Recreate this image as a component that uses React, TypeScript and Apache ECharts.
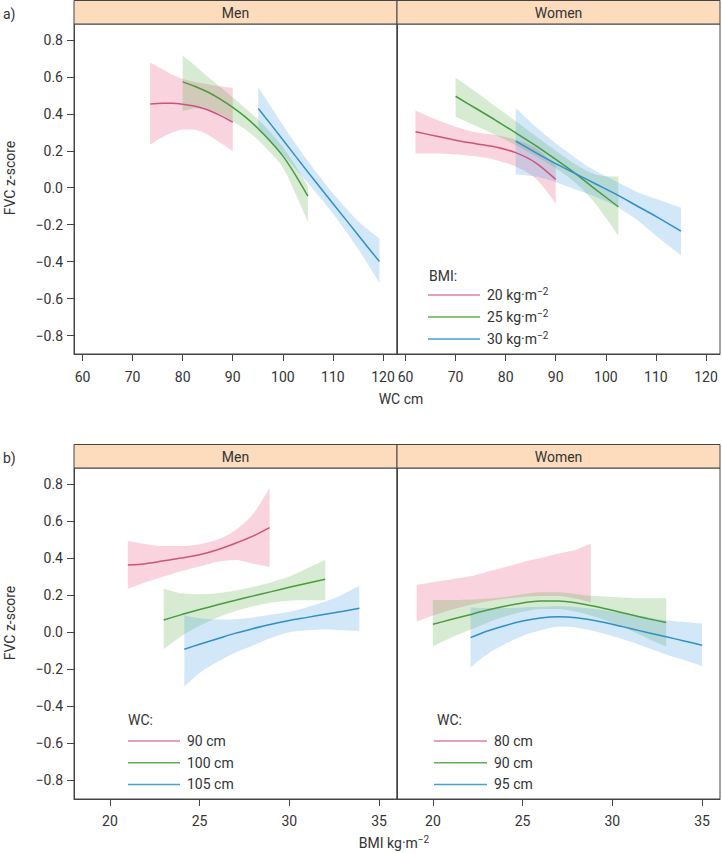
import React, { useEffect, useRef } from 'react';
import * as echarts from 'echarts';

// ---------- Panel a) FVC z-score vs WC (cm), by BMI ----------
const aXTicks = [60, 70, 80, 90, 100, 110, 120];
const bXTicks = [20, 25, 30, 35];
const yTicks = [-0.8, -0.6, -0.4, -0.2, 0, 0.2, 0.4, 0.6, 0.8];

// Men, BMI 20
const aMen20X = [73.5, 76, 78, 80, 82, 84, 86, 88, 90];
const aMen20Fit = [0.453, 0.457, 0.457, 0.452, 0.443, 0.43, 0.41, 0.385, 0.355];
const aMen20Lo = [0.234, 0.275, 0.3, 0.315, 0.315, 0.3, 0.27, 0.235, 0.198];
const aMen20Hi = [0.676, 0.64, 0.61, 0.59, 0.575, 0.565, 0.555, 0.548, 0.54];
// Men, BMI 25
const aMen25X = [80, 82.5, 85, 87.5, 90, 92.5, 95, 97.5, 100, 102.5, 105];
const aMen25Fit = [0.573, 0.548, 0.518, 0.48, 0.435, 0.383, 0.322, 0.252, 0.172, 0.07, -0.045];
const aMen25Lo = [0.415, 0.43, 0.42, 0.4, 0.36, 0.315, 0.26, 0.19, 0.11, -0.03, -0.185];
const aMen25Hi = [0.715, 0.66, 0.6, 0.545, 0.49, 0.43, 0.37, 0.3, 0.22, 0.12, 0.01];
// Men, BMI 30
const aMen30X = [95.1, 100, 105, 110, 115, 119.3];
const aMen30Fit = [0.429, 0.26, 0.085, -0.085, -0.255, -0.4];
const aMen30Lo = [0.31, 0.18, 0.025, -0.14, -0.33, -0.515];
const aMen30Hi = [0.545, 0.34, 0.145, -0.03, -0.18, -0.275];

// Women, BMI 20
const aWom20X = [62, 66, 70, 74, 78, 82, 86, 90];
const aWom20Fit = [0.303, 0.28, 0.257, 0.238, 0.22, 0.19, 0.135, 0.045];
const aWom20Lo = [0.185, 0.185, 0.18, 0.17, 0.15, 0.115, 0.05, -0.085];
const aWom20Hi = [0.418, 0.37, 0.33, 0.3, 0.285, 0.26, 0.215, 0.12];
// Women, BMI 25
const aWom25X = [70, 74, 78, 82, 86, 90, 94, 98, 102.5];
const aWom25Fit = [0.495, 0.43, 0.365, 0.297, 0.228, 0.153, 0.075, -0.01, -0.103];
const aWom25Lo = [0.384, 0.335, 0.285, 0.23, 0.17, 0.105, 0.025, -0.09, -0.26];
const aWom25Hi = [0.595, 0.52, 0.44, 0.36, 0.28, 0.2, 0.125, 0.07, 0.06];
// Women, BMI 30
const aWom30X = [82, 86, 90, 94, 98, 102, 106, 110, 115];
const aWom30Fit = [0.252, 0.19, 0.13, 0.075, 0.02, -0.035, -0.095, -0.155, -0.235];
const aWom30Lo = [0.072, 0.06, 0.03, -0.01, -0.05, -0.1, -0.17, -0.26, -0.366];
const aWom30Hi = [0.432, 0.33, 0.24, 0.16, 0.09, 0.035, -0.02, -0.06, -0.108];

// ---------- Panel b) FVC z-score vs BMI, by WC ----------
// Men, WC 90
const bMen90X = [21, 22, 23, 24, 25, 26, 27, 28, 28.9];
const bMen90Fit = [0.363, 0.37, 0.385, 0.4, 0.418, 0.445, 0.48, 0.52, 0.564];
const bMen90Lo = [0.235, 0.27, 0.3, 0.33, 0.355, 0.38, 0.39, 0.37, 0.352];
const bMen90Hi = [0.492, 0.475, 0.465, 0.465, 0.475, 0.5, 0.55, 0.64, 0.78];
// Men, WC 100
const bMen100X = [23, 24, 25, 26, 27, 28, 29, 30, 31, 32];
const bMen100Fit = [0.066, 0.095, 0.122, 0.148, 0.172, 0.196, 0.219, 0.242, 0.264, 0.286];
const bMen100Lo = [-0.092, -0.02, 0.035, 0.08, 0.115, 0.14, 0.16, 0.17, 0.172, 0.172];
const bMen100Hi = [0.235, 0.21, 0.205, 0.21, 0.225, 0.245, 0.27, 0.3, 0.345, 0.39];
// Men, WC 105
const bMen105X = [24.15, 25, 26, 27, 28, 29, 30, 31, 32, 33, 33.9];
const bMen105Fit = [-0.092, -0.065, -0.035, -0.005, 0.02, 0.043, 0.063, 0.08, 0.097, 0.113, 0.129];
const bMen105Lo = [-0.293, -0.22, -0.16, -0.11, -0.07, -0.03, 0.0, 0.01, 0.015, 0.01, 0.005];
const bMen105Hi = [0.09, 0.075, 0.068, 0.07, 0.08, 0.095, 0.11, 0.135, 0.165, 0.205, 0.25];

// Women, WC 80 (band only; no fitted line visible)
const bWom80X = [19.1, 20, 21, 22, 23, 24, 25, 26, 27, 28, 28.8];
const bWom80Lo = [0.056, 0.09, 0.12, 0.145, 0.165, 0.18, 0.19, 0.195, 0.195, 0.18, 0.16];
const bWom80Hi = [0.255, 0.27, 0.285, 0.3, 0.325, 0.35, 0.378, 0.4, 0.424, 0.445, 0.478];
// Women, WC 90
const bWom90X = [20, 21, 22, 23, 24, 25, 26, 27, 28, 29, 30, 31, 32, 33];
const bWom90Fit = [0.043, 0.068, 0.093, 0.118, 0.14, 0.158, 0.168, 0.168, 0.158, 0.14, 0.118, 0.095, 0.073, 0.052];
const bWom90Lo = [-0.077, -0.03, 0.01, 0.05, 0.085, 0.11, 0.125, 0.125, 0.11, 0.085, 0.05, 0.01, -0.035, -0.077];
const bWom90Hi = [0.174, 0.174, 0.175, 0.18, 0.19, 0.205, 0.215, 0.215, 0.205, 0.195, 0.19, 0.185, 0.183, 0.183];
// Women, WC 95
const bWom95X = [22.1, 23, 24, 25, 26, 27, 28, 29, 30, 31, 32, 33, 34, 35];
const bWom95Fit = [-0.029, 0.005, 0.035, 0.06, 0.077, 0.083, 0.078, 0.063, 0.043, 0.02, -0.003, -0.025, -0.047, -0.07];
const bWom95Lo = [-0.19, -0.12, -0.065, -0.02, 0.01, 0.029, 0.025, 0.005, -0.02, -0.05, -0.085, -0.12, -0.15, -0.182];
const bWom95Hi = [0.133, 0.13, 0.13, 0.133, 0.137, 0.14, 0.135, 0.125, 0.11, 0.095, 0.08, 0.065, 0.055, 0.047];

const legendA = ['20', '25', '30'];
const legendBMen = ['90 cm', '100 cm', '105 cm'];
const legendBWom = ['80 cm', '90 cm', '95 cm'];

const PINK = '#cc5580';
const GREEN = '#4a9a3e';
const BLUE = '#2f90c8';
const PINK_L = '#e07ea0';
const GREEN_L = '#62ad55';
const BLUE_L = '#45a0d4';
const PINK_A = 'rgba(232,80,122,0.25)';
const GREEN_A = 'rgba(92,176,74,0.25)';
const BLUE_A = 'rgba(74,160,224,0.25)';
const FONT = 'Roboto, "DejaVu Sans", sans-serif';
const TXT = '#333';
const FRAME = '#444';
const FS = 14;
const SMOOTH = 0.3;

// Bands: value is put in the first column so that the stack acts on y.
function band(grid: number, x: number[], lo: number[], hi: number[], color: string, key: string) {
  return [
    {
      type: 'line', xAxisIndex: grid, yAxisIndex: grid, stack: key, stackStrategy: 'all',
      encode: { x: 1, y: 0 },
      data: x.map((v, i) => [lo[i], v]), smooth: SMOOTH, symbol: 'none',
      lineStyle: { opacity: 0 }, silent: true, z: 1,
    },
    {
      type: 'line', xAxisIndex: grid, yAxisIndex: grid, stack: key, stackStrategy: 'all',
      encode: { x: 1, y: 0 },
      data: x.map((v, i) => [hi[i] - lo[i], v]), smooth: SMOOTH, symbol: 'none',
      lineStyle: { opacity: 0 }, areaStyle: { color, opacity: 1 }, silent: true, z: 1,
    },
  ];
}

function fitLine(grid: number, x: number[], y: number[], color: string) {
  return {
    type: 'line', xAxisIndex: grid, yAxisIndex: grid,
    data: x.map((v, i) => [v, y[i]]), smooth: SMOOTH, symbol: 'none',
    lineStyle: { color, width: 1.5 }, silent: true, z: 3,
  };
}

const fmtY = (v: number) => (v < -1e-9 ? '\u2212' : '') + Math.abs(v).toFixed(1);

function xAxis(grid: number, min: number, max: number, ticks: number[], margin: number) {
  return {
    type: 'value', gridIndex: grid, min, max,
    splitLine: { show: false },
    axisLine: { show: true, onZero: false, lineStyle: { color: FRAME, width: 1 } },
    axisTick: { show: true, inside: false, length: 7, customValues: ticks, lineStyle: { color: FRAME } },
    axisLabel: { show: true, customValues: ticks, margin, color: TXT, fontSize: FS, fontFamily: FONT },
  };
}

function yAxis(grid: number, labels: boolean) {
  return {
    type: 'value', gridIndex: grid, min: -0.9, max: 0.886,
    splitLine: { show: false },
    axisLine: { show: true, onZero: false, lineStyle: { color: FRAME, width: 1 } },
    axisTick: { show: labels, inside: false, length: 7, customValues: yTicks, lineStyle: { color: FRAME } },
    axisLabel: { show: labels, customValues: yTicks, margin: 11, color: TXT, fontSize: FS, fontFamily: FONT, formatter: fmtY },
  };
}

function strip(x: number, y: number, w: number, label: string) {
  return [
    { type: 'rect', shape: { x, y, width: w, height: 23.5 }, style: { fill: '#fcdcbd', stroke: FRAME, lineWidth: 1 }, z: 10 },
    { type: 'text', x: x + w / 2, y: y + 12.5, style: { text: label, fill: TXT, font: `${FS}px ${FONT}`, align: 'center', verticalAlign: 'middle' }, z: 11 },
  ];
}

function txt(x: number, y: number, text: string, extra: any = {}) {
  return { type: 'text', x, y, style: { text, fill: TXT, font: `${FS}px ${FONT}`, align: 'left', verticalAlign: 'middle', ...extra }, z: 11 };
}

function supText(x: number, y: number, text: string, sup: string, align = 'left') {
  return {
    type: 'text', x, y, z: 11,
    style: {
      text: `{n|${text}}{s|${sup}}`, align, verticalAlign: 'middle', fill: TXT,
      font: `${FS}px ${FONT}`,
      rich: {
        n: { fontSize: FS, fontFamily: FONT, fill: TXT, lineHeight: 18 },
        s: { fontSize: 10, fontFamily: FONT, fill: TXT, verticalAlign: 'top', lineHeight: 10 },
      },
    },
  };
}

function legendLine(x1: number, x2: number, y: number, color: string) {
  return { type: 'line', shape: { x1, y1: y, x2, y2: y }, style: { stroke: color, lineWidth: 1.5 }, z: 11 };
}

export default function App() {
  const ref = useRef<HTMLDivElement>(null);
  useEffect(() => {
    if (!ref.current) return;
    const chart = echarts.init(ref.current, undefined, { renderer: 'svg' });

    const series: any[] = [
      ...band(0, aMen20X, aMen20Lo, aMen20Hi, PINK_A, 'am20'),
      ...band(0, aMen25X, aMen25Lo, aMen25Hi, GREEN_A, 'am25'),
      ...band(0, aMen30X, aMen30Lo, aMen30Hi, BLUE_A, 'am30'),
      ...band(1, aWom20X, aWom20Lo, aWom20Hi, PINK_A, 'aw20'),
      ...band(1, aWom25X, aWom25Lo, aWom25Hi, GREEN_A, 'aw25'),
      ...band(1, aWom30X, aWom30Lo, aWom30Hi, BLUE_A, 'aw30'),
      ...band(2, bMen90X, bMen90Lo, bMen90Hi, PINK_A, 'bm90'),
      ...band(2, bMen100X, bMen100Lo, bMen100Hi, GREEN_A, 'bm100'),
      ...band(2, bMen105X, bMen105Lo, bMen105Hi, BLUE_A, 'bm105'),
      ...band(3, bWom80X, bWom80Lo, bWom80Hi, PINK_A, 'bw80'),
      ...band(3, bWom90X, bWom90Lo, bWom90Hi, GREEN_A, 'bw90'),
      ...band(3, bWom95X, bWom95Lo, bWom95Hi, BLUE_A, 'bw95'),
      fitLine(0, aMen20X, aMen20Fit, PINK),
      fitLine(0, aMen25X, aMen25Fit, GREEN),
      fitLine(0, aMen30X, aMen30Fit, BLUE),
      fitLine(1, aWom20X, aWom20Fit, PINK),
      fitLine(1, aWom25X, aWom25Fit, GREEN),
      fitLine(1, aWom30X, aWom30Fit, BLUE),
      fitLine(2, bMen90X, bMen90Fit, PINK),
      fitLine(2, bMen100X, bMen100Fit, GREEN),
      fitLine(2, bMen105X, bMen105Fit, BLUE),
      fitLine(3, bWom90X, bWom90Fit, GREEN),
      fitLine(3, bWom95X, bWom95Fit, BLUE),
    ];

    const legCols = [PINK_L, GREEN_L, BLUE_L];
    const graphic: any[] = [
      ...strip(74, 0.5, 323, 'Men'),
      ...strip(397, 0.5, 323, 'Women'),
      ...strip(74, 444.5, 323, 'Men'),
      ...strip(397, 444.5, 323, 'Women'),
      txt(3, 14, 'a)'),
      txt(3, 458, 'b)'),
      { type: 'text', x: 10, y: 178, rotation: Math.PI / 2, z: 11,
        style: { text: 'FVC z-score', fill: TXT, font: `${FS}px ${FONT}`, align: 'center', verticalAlign: 'middle' } },
      { type: 'text', x: 10, y: 623, rotation: Math.PI / 2, z: 11,
        style: { text: 'FVC z-score', fill: TXT, font: `${FS}px ${FONT}`, align: 'center', verticalAlign: 'middle' } },
      txt(401, 399, 'WC cm', { align: 'center' }),
      supText(394, 843, 'BMI kg\u00b7m', '\u22122', 'center'),
      // legend a (women panel)
      txt(429, 276, 'BMI:'),
      ...legendA.flatMap((v, i) => [
        legendLine(428, 480, 295 + i * 22, legCols[i]),
        supText(487, 295 + i * 22, `${v} kg\u00b7m`, '\u22122'),
      ]),
      // legend b men
      txt(128, 720, 'WC:'),
      ...legendBMen.flatMap((v, i) => [
        legendLine(128, 180, 741 + i * 21.7, legCols[i]),
        txt(187, 741 + i * 21.7, v),
      ]),
      // legend b women
      txt(437, 720, 'WC:'),
      ...legendBWom.flatMap((v, i) => [
        legendLine(434, 487, 741 + i * 21.7, legCols[i]),
        txt(494, 741 + i * 21.7, v),
      ]),
    ];

    const gridBase = { show: true, borderColor: FRAME, borderWidth: 1, containLabel: false };
    chart.setOption({
      animation: false,
      backgroundColor: '#fff',
      textStyle: { fontFamily: FONT },
      grid: [
        { ...gridBase, left: 74, top: 24, width: 323, height: 330 },
        { ...gridBase, left: 397, top: 24, width: 323, height: 330 },
        { ...gridBase, left: 74, top: 468, width: 323, height: 331 },
        { ...gridBase, left: 397, top: 468, width: 323, height: 331 },
      ],
      xAxis: [
        xAxis(0, 58.3, 122.8, aXTicks, 16),
        xAxis(1, 58.3, 122.8, aXTicks, 16),
        xAxis(2, 18, 36, bXTicks, 15),
        xAxis(3, 18, 36, bXTicks, 15),
      ],
      yAxis: [yAxis(0, true), yAxis(1, false), yAxis(2, true), yAxis(3, false)],
      series,
      graphic,
    });
    return () => chart.dispose();
  }, []);
  return <div ref={ref} style={{ position: 'absolute', left: 0, top: 0, width: 722, height: 853 }} />;
}
